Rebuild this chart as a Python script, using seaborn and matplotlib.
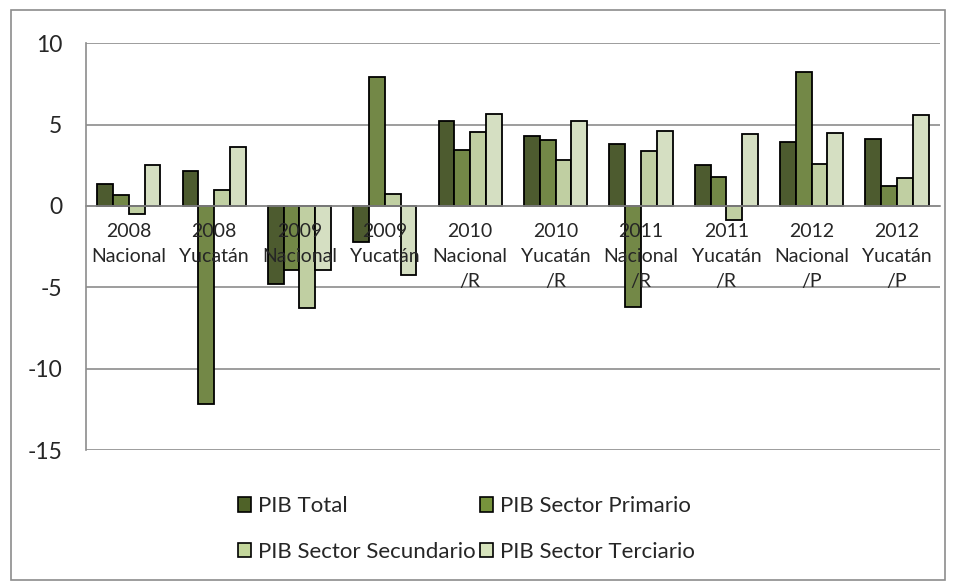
import matplotlib
matplotlib.use("Agg")
import matplotlib.pyplot as plt
from matplotlib.patches import Rectangle
from matplotlib.ticker import FixedLocator, MultipleLocator
import seaborn as sns
import pandas as pd

# -----------------------------
# DATA
# -----------------------------
categories = [
    "2008\nNacional", "2008\nYucatán", "2009\nNacional", "2009\nYucatán",
    "2010\nNacional\n/R", "2010\nYucatán\n/R", "2011\nNacional\n/R",
    "2011\nYucatán\n/R", "2012\nNacional\n/P", "2012\nYucatán\n/P",
]
series_names = ["PIB Total", "PIB Sector Primario",
                "PIB Sector Secundario", "PIB Sector Terciario"]
pib_total = [1.35, 2.13, -4.79, -2.2, 5.19, 4.29, 3.8, 2.52, 3.9, 4.13]
pib_primario = [0.65, -12.15, -3.93, 7.9, 3.42, 4.05, -6.22, 1.8, 8.24, 1.23]
pib_secundario = [-0.49, 1.0, -6.26, 0.76, 4.54, 2.82, 3.39, -0.86, 2.56, 1.7]
pib_terciario = [2.54, 3.62, -3.93, -4.27, 5.64, 5.19, 4.6, 4.44, 4.46, 5.6]
colors = ["#4F6228", "#77933C", "#C3D69B", "#D7E4BD"]

values = [pib_total, pib_primario, pib_secundario, pib_terciario]
rows = []
for name, vals in zip(series_names, values):
    for cat, v in zip(categories, vals):
        rows.append({"Categoria": cat, "Serie": name, "Valor": v})
df = pd.DataFrame(rows)

sns.set_theme(style="white")
plt.rcParams["font.family"] = ["Lato", "DejaVu Sans"]
plt.rcParams["axes.unicode_minus"] = False

fig = plt.figure(figsize=(9.56, 5.83), dpi=100)
ax = fig.add_axes([0.090, 0.228, 0.893, 0.698])

sns.barplot(data=df, x="Categoria", y="Valor", hue="Serie",
            palette=colors, order=categories, hue_order=series_names,
            edgecolor="black", linewidth=1.3, width=0.74,
            errorbar=None, ax=ax)

# axes styling
ax.set_ylim(-15, 10)
ax.set_xlim(-0.5, len(categories) - 0.5)
ax.yaxis.set_major_locator(MultipleLocator(5))
ax.grid(axis="y", color="#8c8c8c", linewidth=1.2)
ax.set_axisbelow(True)
ax.xaxis.set_zorder(5)  # category labels drawn over the bars, as in the reference
ax.set_xlabel("")
ax.set_ylabel("")

for side in ["top", "right"]:
    ax.spines[side].set_visible(False)
ax.spines["left"].set_color("#8c8c8c")
ax.spines["left"].set_linewidth(1.2)
ax.spines["bottom"].set_position(("data", 0))
ax.spines["bottom"].set_color("#8c8c8c")
ax.spines["bottom"].set_linewidth(1.2)
ax.spines["bottom"].set_zorder(1)

ax.tick_params(axis="y", which="major", length=7, width=1.2,
               color="#8c8c8c", direction="out", labelsize=16.5, pad=10)
ax.tick_params(axis="x", which="major", length=0, labelsize=14, pad=12)
ax.xaxis.set_minor_locator(FixedLocator([i + 0.5 for i in range(-1, len(categories))]))
ax.tick_params(axis="x", which="minor", length=6, width=1.2,
               color="#8c8c8c", direction="out")
for lbl in ax.get_xticklabels():
    lbl.set_linespacing(1.6)
    lbl.set_multialignment("center")

# legend below the plot (row-major order like the reference)
ax.get_legend().remove()
handles = [Rectangle((0, 0), 1, 1, facecolor=c, edgecolor="black", linewidth=1.2)
           for c in colors]
order = [0, 2, 1, 3]
fig.legend([handles[i] for i in order], [series_names[i] for i in order],
           loc="upper left", bbox_to_anchor=(0.228, 0.183), ncol=2,
           frameon=False, fontsize=16, handlelength=0.6, handleheight=0.6,
           handletextpad=0.3, columnspacing=0.2, labelspacing=1.15)

# outer chart border
fig.patches.append(Rectangle((0.011, 0.005), 0.978, 0.978,
                             transform=fig.transFigure, fill=False,
                             edgecolor="#8c8c8c", linewidth=1.2))

fig.savefig("out.png", dpi=100)
